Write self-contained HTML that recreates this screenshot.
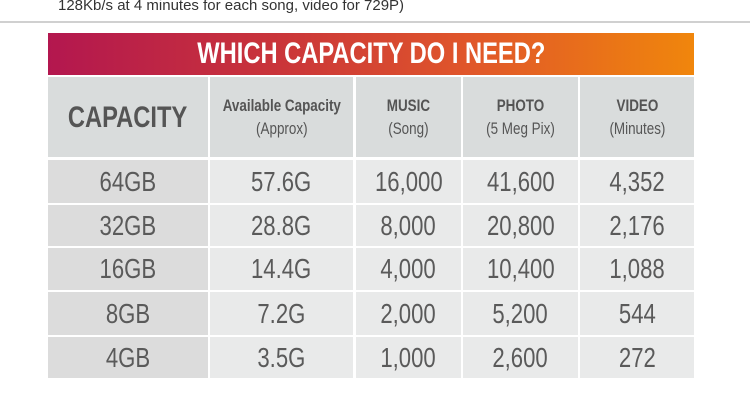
<!DOCTYPE html>
<html><head><meta charset="utf-8"><style>
*{margin:0;padding:0;box-sizing:border-box}
body{width:750px;height:412px;background:#fff;position:relative;overflow:hidden;font-family:"Liberation Sans",sans-serif;color:#555}
.top{position:absolute;left:58px;top:-3px;font-size:15px;color:#333;white-space:nowrap}
.rule{position:absolute;left:0;top:21px;width:750px;height:2px;background:#d0d0d0}
.banner{position:absolute;left:48px;top:33px;width:646px;height:42px;background:linear-gradient(90deg,#b3174f,#c9343a 35%,#e0562a 65%,#f0860c);color:#fff;font-weight:bold;font-size:30px;text-align:center;line-height:42px}
.s{display:inline-block;transform:scaleX(.79);white-space:nowrap}
.cell{position:absolute;display:flex;flex-direction:column;align-items:center;justify-content:center;text-align:center}
.h{background:#d9dcdc;font-weight:bold;font-size:17px;color:#555;line-height:23px}
.h small{font-weight:normal;font-size:17px;display:block}
.d{background:#e9eaea;font-size:28px;color:#5a5a5a}
.c{background:#dcdcdc}
</style></head><body>
<div class="top">128Kb/s at 4 minutes for each song, video for 729P)</div>
<div class="rule"></div>
<div class="banner"><span class="s">WHICH CAPACITY DO I NEED?</span></div>
<div id="t"></div>
<script>
const cols=[[48,160],[210,143],[356,105],[463,115],[580,114]];
const rows=[[160,43],[205,41],[248,42],[292,43],[337,41]];
const capacities=["64GB","32GB","16GB","8GB","4GB"];
const available=["57.6G","28.8G","14.4G","7.2G","3.5G"];
const music=["16,000","8,000","4,000","2,000","1,000"];
const photo=["41,600","20,800","10,400","5,200","2,600"];
const video=["4,352","2,176","1,088","544","272"];
const t=document.getElementById('t');
const heads=[["CAPACITY",""],["Available Capacity","(Approx)"],["MUSIC","(Song)"],["PHOTO","(5 Meg Pix)"],["VIDEO","(Minutes)"]];
heads.forEach((h,i)=>{
 const d=document.createElement('div');
 d.className='cell h';
 
 
 d.style.cssText=`left:${cols[i][0]}px;top:77px;width:${cols[i][1]}px;height:80px;`+(i==0?'font-size:30px;':'');
 d.innerHTML='<span class="s">'+h[0]+(h[1]?'<small>'+h[1]+'</small>':'')+'</span>';
 t.appendChild(d);
});
const data=[capacities,available,music,photo,video];
rows.forEach((r,ri)=>{
 data.forEach((col,ci)=>{
  const d=document.createElement('div');
  d.className='cell d'+(ci==0?' c':'');
  
  
  d.style.cssText=`left:${cols[ci][0]}px;top:${r[0]}px;width:${cols[ci][1]}px;height:${r[1]}px;`;
  const s=document.createElement('span');
  s.className='s';
  s.textContent=col[ri];
  d.appendChild(s);
  t.appendChild(d);
 });
});
</script>
</body></html>
